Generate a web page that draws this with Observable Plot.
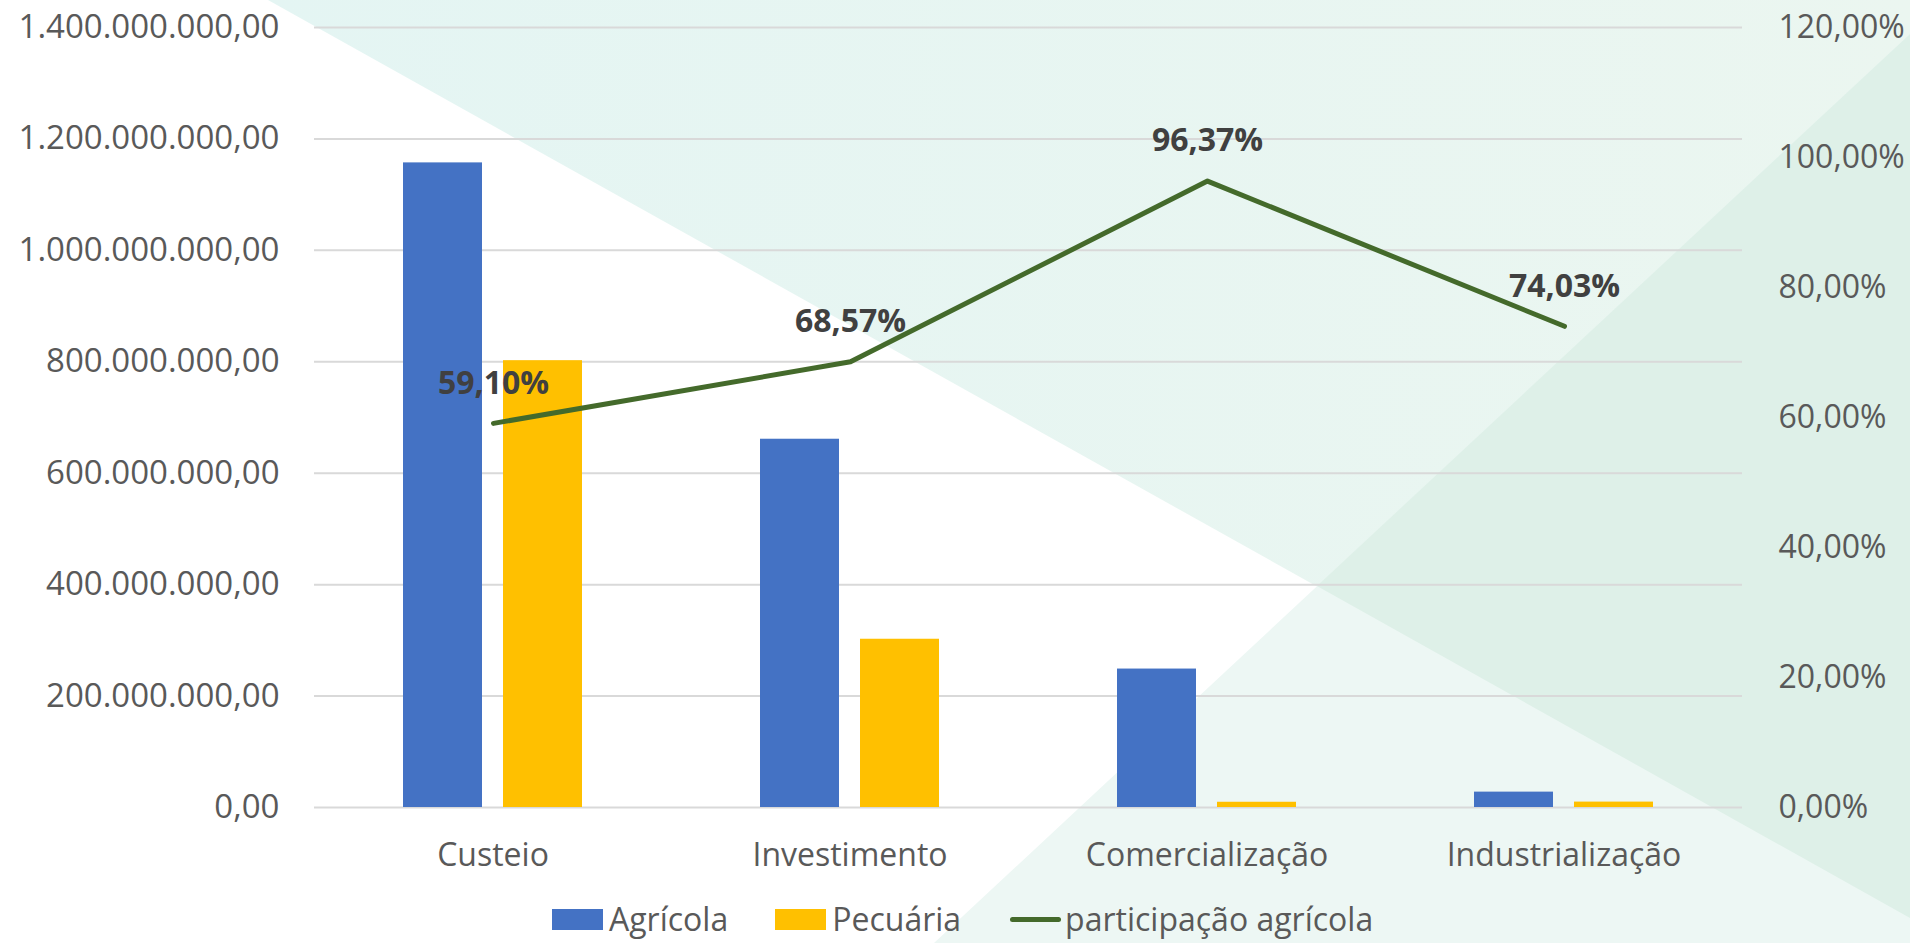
<!DOCTYPE html>
<html>
<head>
<meta charset="utf-8">
<script src="https://cdn.jsdelivr.net/npm/d3@7"></script>
<script src="https://cdn.jsdelivr.net/npm/@observablehq/plot@0.6"></script>
<style>
  html, body { margin: 0; padding: 0; background: #ffffff; }
  #chart { position: relative; width: 1910px; height: 943px; overflow: hidden; font-family: "Open Sans", sans-serif; }
  #bg { position: absolute; left: 0; top: 0; }
  .layer { position: absolute; left: 0; top: 0; }
  #legend { position: absolute; left: 0; top: 902px; width: 1910px; height: 34px; box-sizing: border-box;
            padding-left: 552px; display: flex; align-items: center; line-height: 1;
            font-size: 32px; color: #595959; font-family: "Open Sans", sans-serif; }
  .item { display: flex; align-items: center; margin-right: 47px; white-space: nowrap; line-height: 1; }
  .sw { display: inline-block; width: 51px; height: 21px; margin-right: 6px; }
  .swl { display: inline-block; width: 51px; height: 5px; border-radius: 3px; margin: 0 4px 0 2px; }
</style>
</head>
<body>
<div id="chart">
  <svg id="bg" width="1910" height="943"></svg>
  <div id="p1" class="layer"></div>
  <div id="p2" class="layer"></div>
  <div id="legend"></div>
</div>
<script>
// ---- data ----
const categorias = ["Custeio", "Investimento", "Comercialização", "Industrialização"];
const series = ["Agrícola", "Pecuária"];
const agricola = [1157e6, 661e6, 248.5e6, 27.6e6];
const pecuaria = [802e6, 302e6, 9.4e6, 9.7e6];
const participacao = [0.5910, 0.6857, 0.9637, 0.7403];
const serieLinha = "participação agrícola";
const ticksValor = [0, 200e6, 400e6, 600e6, 800e6, 1000e6, 1200e6, 1400e6];
const ticksPct = [0, 0.2, 0.4, 0.6, 0.8, 1.0, 1.2];

// ---- styles ----
const cores = ["#4472C4", "#FFC000"];
const verde = "#446A2B";
const W = 1910, H = 895;
const M = { marginLeft: 314, marginRight: 168, marginTop: 27, marginBottom: 88 };
const font = '"Open Sans", sans-serif';

const locale = d3.formatLocale({ decimal: ",", thousands: ".", grouping: [3], currency: ["R$", ""] });
const fmtValor = locale.format(",.2f");
const fmtPct = locale.format(".2%");

// ---- decorative background ----
(function () {
  const bg = d3.select("#bg");
  const defs = bg.append("defs");
  const g = defs.append("linearGradient").attr("id", "gA").attr("x1", "0").attr("x2", "1").attr("y1", "0").attr("y2", "0");
  g.append("stop").attr("offset", "0").attr("stop-color", "#E4F5F3");
  g.append("stop").attr("offset", "1").attr("stop-color", "#EBF6F0");
  bg.append("polygon").attr("points", "268,0 1910,0 1910,918").attr("fill", "url(#gA)");
  bg.append("polygon").attr("points", "934,943 1910,34 1910,943").attr("fill", "#EDF7F4");
  bg.append("polygon").attr("points", "1317,586 1910,34 1910,918").attr("fill", "#DEF0E8");
})();

// ---- bars ----
const barras = categorias.flatMap((c, i) => [
  { categoria: c, serie: series[0], valor: agricola[i] },
  { categoria: c, serie: series[1], valor: pecuaria[i] }
]);

const p1 = Plot.plot({
  width: W, height: H, ...M,
  style: { background: "transparent", fontFamily: font, color: "#595959" },
  fx: { domain: categorias, padding: 0, label: null },
  x: { domain: series, paddingInner: 0.21, paddingOuter: 0.8724, axis: null },
  y: { domain: [0, 1.4e9] },
  color: { domain: series, range: cores },
  marks: [
    Plot.ruleY(ticksValor, { stroke: "#D9D9D9", strokeWidth: 2 }),
    Plot.barY(barras, { fx: "categoria", x: "serie", y: "valor", fill: "serie" }),
    Plot.axisY({ anchor: "left", ticks: ticksValor, tickFormat: fmtValor, tickSize: 0, tickPadding: 35, fontSize: 33, label: null }),
    Plot.axisFx({ anchor: "bottom", tickSize: 0, tickPadding: 36, fontSize: 32, label: null })
  ]
});
document.getElementById("p1").appendChild(p1);

// ---- line ----
const linha = categorias.map((c, i) => ({ categoria: c, pct: participacao[i] }));

const p2 = Plot.plot({
  width: W, height: H, ...M,
  style: { background: "transparent", fontFamily: font, color: "#595959" },
  x: { type: "point", domain: categorias, padding: 0.5, axis: null },
  y: { domain: [0, 1.2] },
  marks: [
    Plot.line(linha, { x: "categoria", y: "pct", stroke: verde, strokeWidth: 5, strokeLinecap: "round", strokeLinejoin: "round" }),
    Plot.text(linha, { x: "categoria", y: "pct", text: d => fmtPct(d.pct), dy: -40, fontSize: 32, fontWeight: "bold", fill: "#404040" }),
    Plot.axisY({ anchor: "right", ticks: ticksPct, tickFormat: fmtPct, tickSize: 0, tickPadding: 36, fontSize: 32, label: null })
  ]
});
document.getElementById("p2").appendChild(p2);

// ---- legend ----
const legend = d3.select("#legend");
series.forEach((s, i) => {
  const it = legend.append("div").attr("class", "item");
  it.append("span").attr("class", "sw").style("background", cores[i]);
  it.append("span").text(s);
});
const itL = legend.append("div").attr("class", "item");
itL.append("span").attr("class", "swl").style("background", verde);
itL.append("span").text(serieLinha);
</script>
</body>
</html>
